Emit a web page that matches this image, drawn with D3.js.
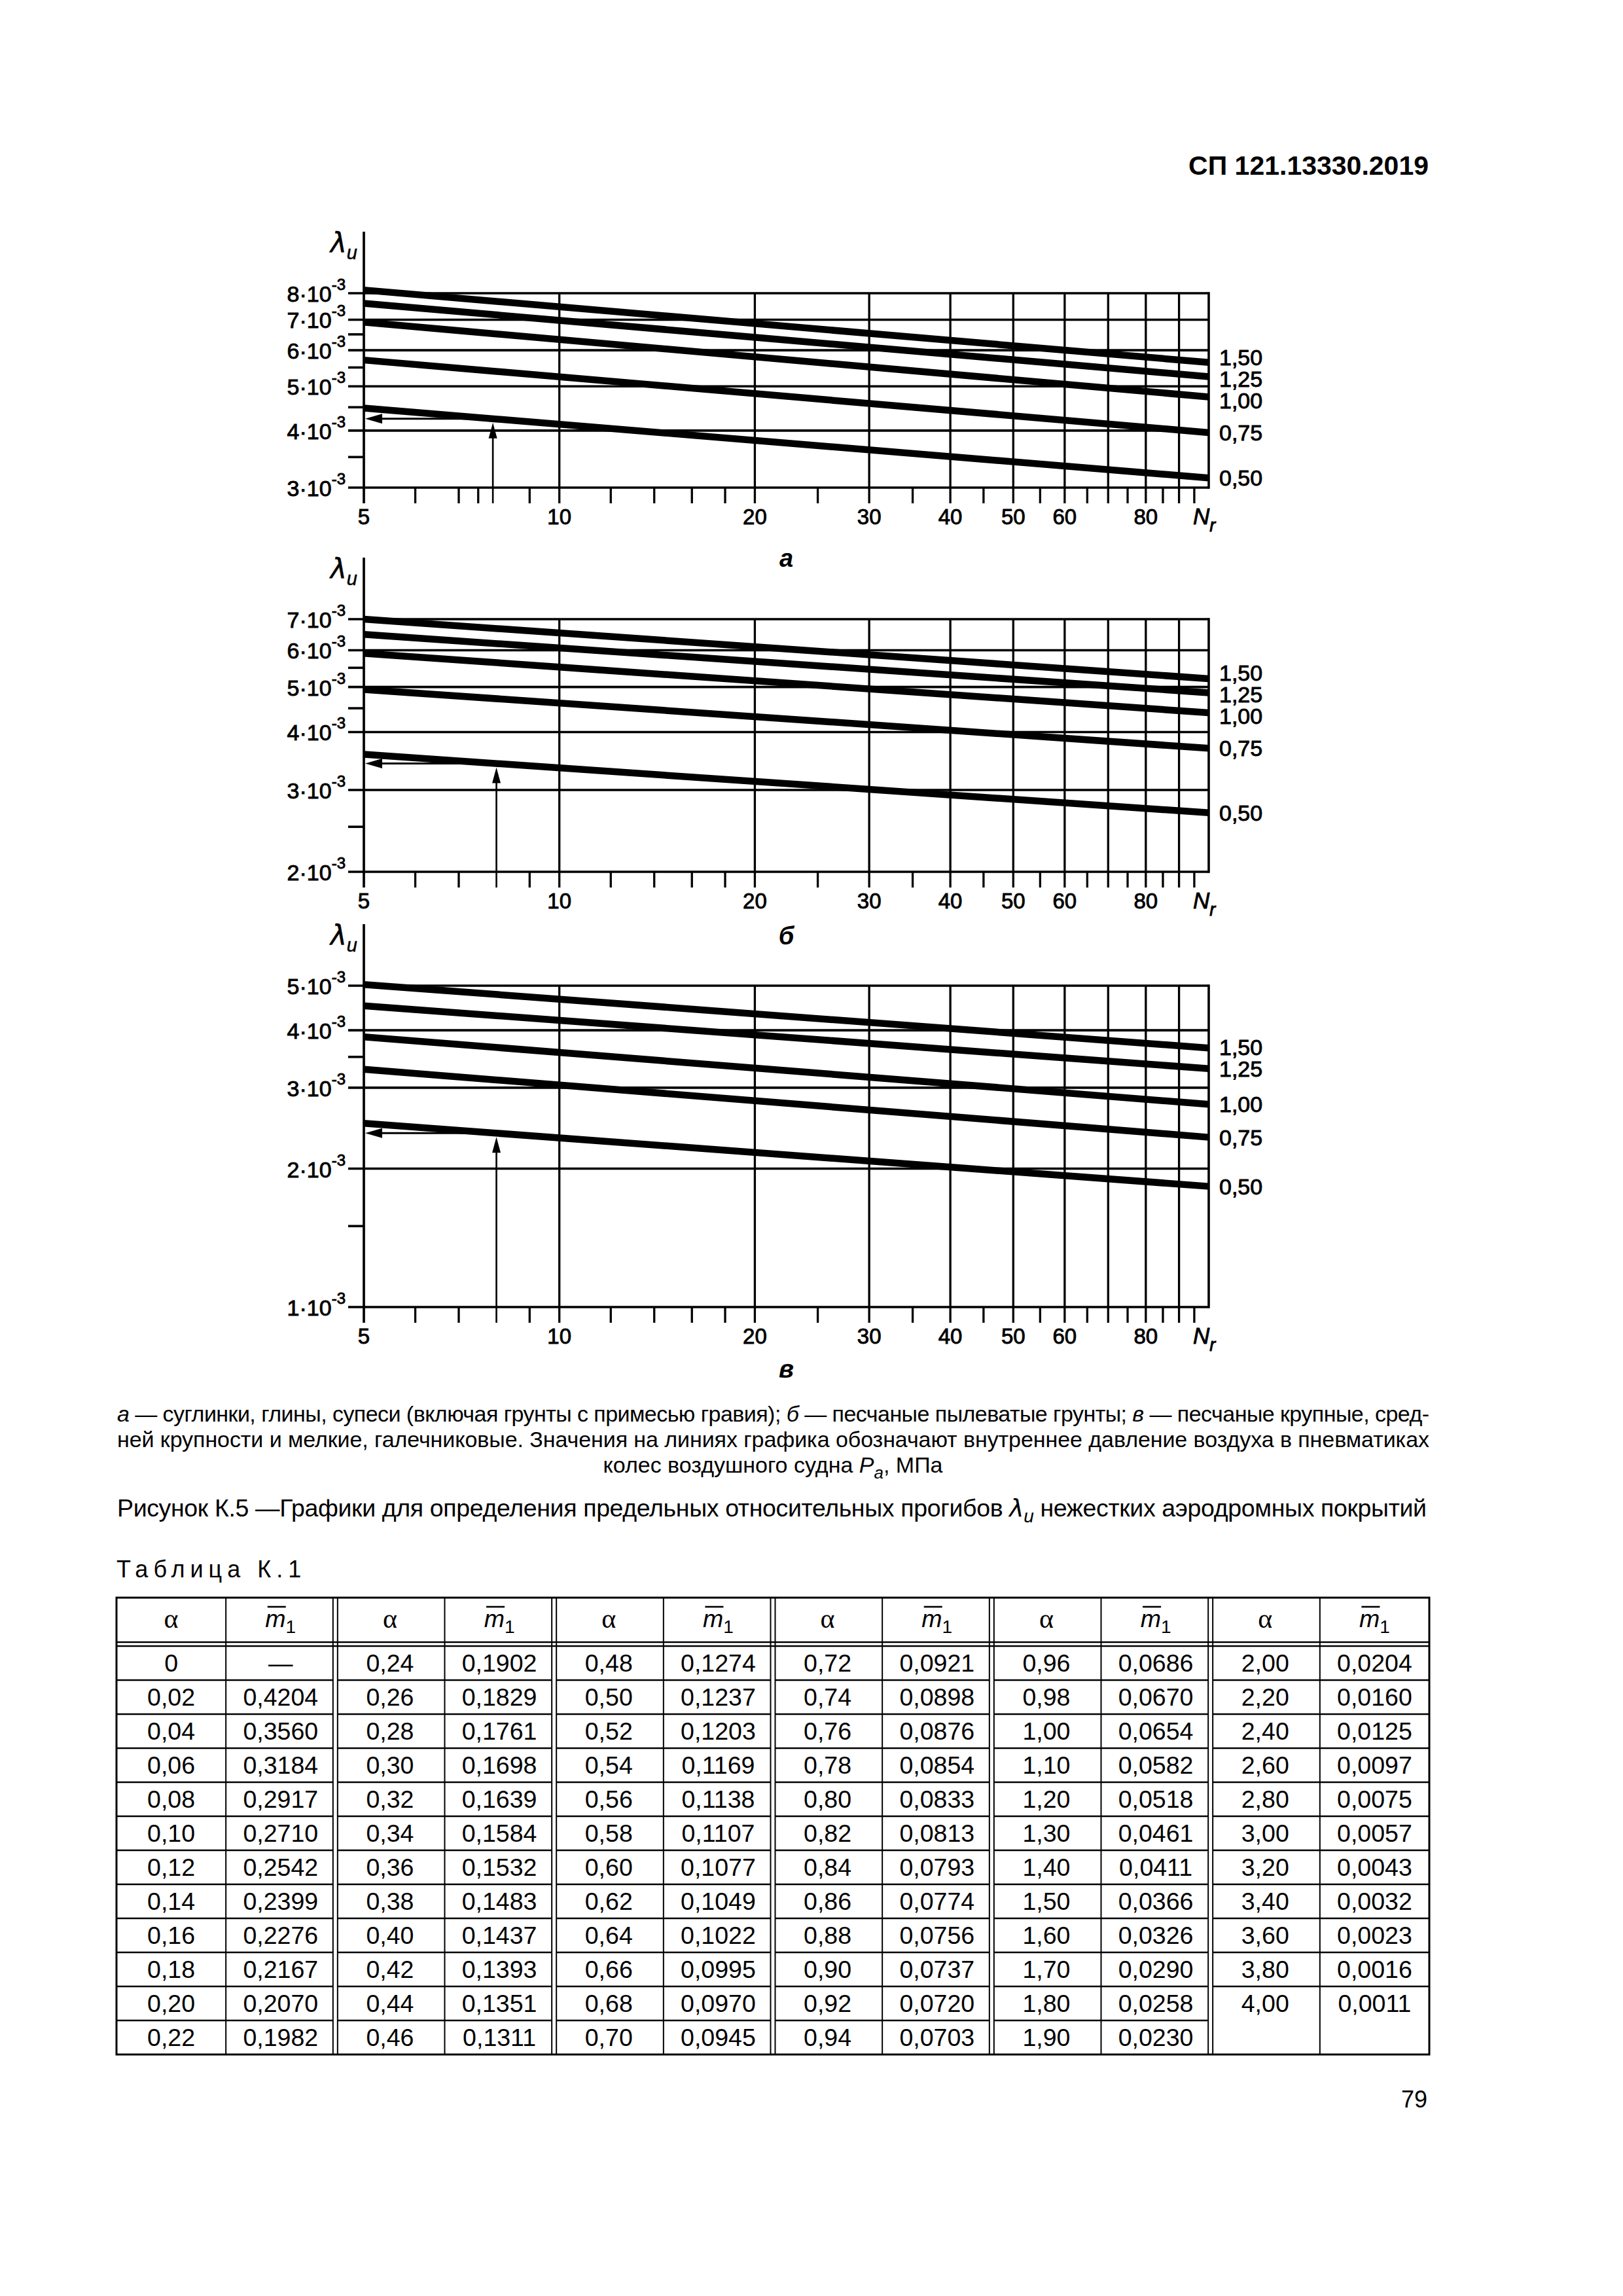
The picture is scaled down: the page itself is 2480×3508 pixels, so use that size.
<!DOCTYPE html>
<html><head><meta charset="utf-8">
<script src="https://cdn.jsdelivr.net/npm/d3@7"></script>
<style>html,body{margin:0;padding:0;background:#fff}svg{display:block}</style>
</head><body>
<script>
// ---------------- DATA ----------------
const pressureLabels = ["1,50", "1,25", "1,00", "0,75", "0,50"];
const nDomain = [5, 100];
// λu at N = 5 (start) and N = 100 (end), one value per pressure line
const aStart = [8.13e-3, 7.60e-3, 6.91e-3, 5.71e-3, 4.48e-3];
const aEnd   = [5.64e-3, 5.25e-3, 4.74e-3, 3.96e-3, 3.15e-3];
const bStart = [7.00e-3, 6.49e-3, 5.91e-3, 4.94e-3, 3.58e-3];
const bEnd   = [5.21e-3, 4.86e-3, 4.40e-3, 3.69e-3, 2.68e-3];
const cStart = [5.03e-3, 4.52e-3, 3.87e-3, 3.29e-3, 2.51e-3];
const cEnd   = [3.66e-3, 3.30e-3, 2.76e-3, 2.34e-3, 1.83e-3];
// y axis ticks (mantissa of ·10^-3)
const aYMajor = [8, 7, 6, 5, 4, 3];
const aYMinor = [6.5, 5.5, 4.5, 3.5];
const bYMajor = [7, 6, 5, 4, 3, 2];
const bYMinor = [5.5, 4.5, 2.5];
const cYMajor = [5, 4, 3, 2, 1];
const cYMinor = [3.5, 1.5];
// x axis
const xGridValues = [10, 20, 30, 40, 50, 60, 70, 80, 90];
const xMinorA  = [6, 7, 7.5, 9, 12, 14, 16, 18, 25, 35, 45, 55, 65, 75, 85, 95];
const xMinorBC = [6, 7, 9, 12, 14, 16, 18, 25, 35, 45, 55, 65, 75, 85, 95];
const xTickLabels = [5, 10, 20, 30, 40, 50, 60, 80];
// example arrows (N value of the worked example) per chart
const arrowN = [7.9, 8, 8];
const chartNames = ["а", "б", "в"];

// table K.1
const tableAlpha = ["0","0,02","0,04","0,06","0,08","0,10","0,12","0,14","0,16","0,18","0,20","0,22",
  "0,24","0,26","0,28","0,30","0,32","0,34","0,36","0,38","0,40","0,42","0,44","0,46",
  "0,48","0,50","0,52","0,54","0,56","0,58","0,60","0,62","0,64","0,66","0,68","0,70",
  "0,72","0,74","0,76","0,78","0,80","0,82","0,84","0,86","0,88","0,90","0,92","0,94",
  "0,96","0,98","1,00","1,10","1,20","1,30","1,40","1,50","1,60","1,70","1,80","1,90",
  "2,00","2,20","2,40","2,60","2,80","3,00","3,20","3,40","3,60","3,80","4,00"];
const tableM1 = ["—","0,4204","0,3560","0,3184","0,2917","0,2710","0,2542","0,2399","0,2276","0,2167","0,2070","0,1982",
  "0,1902","0,1829","0,1761","0,1698","0,1639","0,1584","0,1532","0,1483","0,1437","0,1393","0,1351","0,1311",
  "0,1274","0,1237","0,1203","0,1169","0,1138","0,1107","0,1077","0,1049","0,1022","0,0995","0,0970","0,0945",
  "0,0921","0,0898","0,0876","0,0854","0,0833","0,0813","0,0793","0,0774","0,0756","0,0737","0,0720","0,0703",
  "0,0686","0,0670","0,0654","0,0582","0,0518","0,0461","0,0411","0,0366","0,0326","0,0290","0,0258","0,0230",
  "0,0204","0,0160","0,0125","0,0097","0,0075","0,0057","0,0043","0,0032","0,0023","0,0016","0,0011"];

// ---------------- LAYOUT ----------------
const W = 2480, H = 3508;
const SANS = "'Liberation Sans', Arial, sans-serif";
const SERIF = "'Liberation Serif', 'Times New Roman', serif";
const plotLeft = 556, plotRight = 1847;
const layouts = [
  {top: 448, bottom: 745, subY: 866},
  {top: 946, bottom: 1332, subY: 1443},
  {top: 1506, bottom: 1997, subY: 2105}
];
const HEAVY = 0.9; // extra stroke to mimic the heavier print of chart labels

const svg = d3.select("body").append("svg")
  .attr("width", W).attr("height", H).attr("viewBox", `0 0 ${W} ${H}`)
  .style("font-family", SANS);
svg.append("rect").attr("width", W).attr("height", H).attr("fill", "#fff");

// header
svg.append("text").attr("x", 2183).attr("y", 267).attr("text-anchor", "end")
  .attr("font-size", 41).attr("font-weight", "bold").text("СП 121.13330.2019");

const x = d3.scaleLog().domain(nDomain).range([plotLeft, plotRight]);

const chartData = [
  {start: aStart, end: aEnd, yMajor: aYMajor, yMinor: aYMinor, xMinor: xMinorA},
  {start: bStart, end: bEnd, yMajor: bYMajor, yMinor: bYMinor, xMinor: xMinorBC},
  {start: cStart, end: cEnd, yMajor: cYMajor, yMinor: cYMinor, xMinor: xMinorBC}
];

chartData.forEach((cd, ci) => {
  const L = layouts[ci];
  const g = svg.append("g");
  const y = d3.scaleLog()
    .domain([d3.min(cd.yMajor) * 1e-3, d3.max(cd.yMajor) * 1e-3])
    .range([L.bottom, L.top]);
  const TK = 24;

  // horizontal grid lines (extend left as ticks)
  g.selectAll(".hg").data(cd.yMajor).join("line")
    .attr("x1", plotLeft - TK).attr("x2", plotRight)
    .attr("y1", d => y(d * 1e-3)).attr("y2", d => y(d * 1e-3))
    .attr("stroke", "#000").attr("stroke-width", 3.6);
  // y minor ticks
  g.selectAll(".ym").data(cd.yMinor).join("line")
    .attr("x1", plotLeft - TK).attr("x2", plotLeft)
    .attr("y1", d => y(d * 1e-3)).attr("y2", d => y(d * 1e-3))
    .attr("stroke", "#000").attr("stroke-width", 3.6);
  // vertical grid lines (extend below as ticks)
  g.selectAll(".vg").data(xGridValues).join("line")
    .attr("x1", d => x(d)).attr("x2", d => x(d))
    .attr("y1", L.top).attr("y2", L.bottom + TK)
    .attr("stroke", "#000").attr("stroke-width", 3.3);
  // x minor ticks
  g.selectAll(".xm").data(cd.xMinor).join("line")
    .attr("x1", d => x(d)).attr("x2", d => x(d))
    .attr("y1", L.bottom).attr("y2", L.bottom + TK)
    .attr("stroke", "#000").attr("stroke-width", 3.3);
  // y axis line
  g.append("line").attr("x1", plotLeft).attr("x2", plotLeft)
    .attr("y1", L.top - 94).attr("y2", L.bottom + TK)
    .attr("stroke", "#000").attr("stroke-width", 3.7);
  // right border
  g.append("line").attr("x1", plotRight).attr("x2", plotRight)
    .attr("y1", L.top - 1.8).attr("y2", L.bottom + 1.8)
    .attr("stroke", "#000").attr("stroke-width", 3.6);

  // data lines
  const series = cd.start.map((s, i) => ({label: pressureLabels[i], pts: [{n: nDomain[0], v: s}, {n: nDomain[1], v: cd.end[i]}]}));
  const line = d3.line().x(p => x(p.n)).y(p => y(p.v));
  g.selectAll(".dl").data(series).join("path")
    .attr("d", d => line(d.pts)).attr("fill", "none")
    .attr("stroke", "#000").attr("stroke-width", 10.5);

  // worked example arrows on the 0,50 line
  const low = series[series.length - 1];
  const an = arrowN[ci];
  const t = (Math.log(an) - Math.log(nDomain[0])) / (Math.log(nDomain[1]) - Math.log(nDomain[0]));
  const av = Math.exp(Math.log(low.pts[0].v) + t * (Math.log(low.pts[1].v) - Math.log(low.pts[0].v)));
  const ax = x(an), ay = y(av);
  const tipY = ay + 6, AL = 24, AW = 6.5;
  g.append("line").attr("x1", ax).attr("x2", ax).attr("y1", L.bottom + TK).attr("y2", tipY + AL - 2)
    .attr("stroke", "#000").attr("stroke-width", 2.6);
  g.append("path").attr("d", `M${ax},${tipY} L${ax - AW},${tipY + AL} L${ax + AW},${tipY + AL} Z`).attr("fill", "#000");
  const tipX = plotLeft + 2;
  g.append("line").attr("x1", ax - 6).attr("x2", tipX + AL - 2).attr("y1", ay).attr("y2", ay)
    .attr("stroke", "#000").attr("stroke-width", 3);
  g.append("path").attr("d", `M${tipX},${ay} L${tipX + AL + 2},${ay - AW - 1} L${tipX + AL + 2},${ay + AW + 1} Z`).attr("fill", "#000");

  // y tick labels
  const yl = g.selectAll(".yl").data(cd.yMajor).join("text")
    .attr("x", plotLeft - 28).attr("y", d => y(d * 1e-3) + 13)
    .attr("text-anchor", "end").attr("font-size", 34)
    .attr("stroke", "#000").attr("stroke-width", HEAVY);
  yl.append("tspan").text(d => d + "·10");
  yl.append("tspan").attr("dy", -18).attr("font-size", 24).text("-3");

  // axis title λu
  const lt = g.append("text").attr("x", 505).attr("y", L.top - 62).attr("font-size", 42)
    .attr("font-family", "'DejaVu Sans', sans-serif").attr("stroke", "#000").attr("stroke-width", 0.5);
  lt.append("tspan").attr("font-style", "italic").text("λ");
  lt.append("tspan").attr("dy", 10).attr("font-size", 29).attr("font-style", "italic").attr("font-family", SANS).text("u");

  // x tick labels
  g.selectAll(".xl").data(xTickLabels).join("text")
    .attr("x", d => x(d)).attr("y", L.bottom + 56)
    .attr("text-anchor", "middle").attr("font-size", 33)
    .attr("stroke", "#000").attr("stroke-width", HEAVY).text(d => d);
  const nt = g.append("text").attr("x", x(nDomain[1]) - 24).attr("y", L.bottom + 56).attr("font-size", 35)
    .attr("font-style", "italic").attr("stroke", "#000").attr("stroke-width", HEAVY);
  nt.append("tspan").text("N");
  nt.append("tspan").attr("dy", 11).attr("font-size", 27).text("r");

  // right labels, dodged so that they don't overlap
  const gap = 33;
  let items = series.map(s => ({label: s.label, target: y(s.pts[1].v)}));
  items.sort((a, b) => a.target - b.target);
  let groups = items.map(it => ({items: [it], pos: it.target}));
  let changed = true;
  while (changed) {
    changed = false;
    for (let i = 0; i < groups.length - 1; i++) {
      const a = groups[i], b = groups[i + 1];
      const aEndPos = a.pos + (a.items.length - 1) * gap;
      if (b.pos - aEndPos < gap) {
        const merged = a.items.concat(b.items);
        const mean = d3.mean(merged, d => d.target);
        groups.splice(i, 2, {items: merged, pos: mean - (merged.length - 1) * gap / 2});
        changed = true; break;
      }
    }
  }
  groups.forEach(gr => gr.items.forEach((it, k) => { it.y = gr.pos + k * gap; }));
  g.selectAll(".rl").data(items).join("text")
    .attr("x", plotRight + 16).attr("y", d => d.y + 12)
    .attr("font-size", 34).attr("stroke", "#000").attr("stroke-width", HEAVY).text(d => d.label);

  // chart letter
  g.append("text").attr("x", (plotLeft + plotRight) / 2 + 0).attr("y", L.subY)
    .attr("text-anchor", "middle").attr("font-size", 38).attr("font-style", "italic").attr("font-weight", "bold")
    .text(chartNames[ci]);
});

// ---------------- CAPTION ----------------
const capLeft = 179, capRight = 2184;
const c1 = svg.append("text").attr("x", capLeft).attr("y", 2172).attr("font-size", 34)
  .attr("textLength", capRight - capLeft).attr("lengthAdjust", "spacing");
c1.append("tspan").attr("font-style", "italic").text("а");
c1.append("tspan").text(" — суглинки, глины, супеси (включая грунты с примесью гравия); ");
c1.append("tspan").attr("font-style", "italic").text("б");
c1.append("tspan").text(" — песчаные пылеватые грунты; ");
c1.append("tspan").attr("font-style", "italic").text("в");
c1.append("tspan").text(" — песчаные крупные, сред-");
svg.append("text").attr("x", capLeft).attr("y", 2211).attr("font-size", 34)
  .attr("textLength", capRight - capLeft).attr("lengthAdjust", "spacing")
  .text("ней крупности и мелкие, галечниковые. Значения на линиях графика обозначают внутреннее давление воздуха в пневматиках");
const c3 = svg.append("text").attr("x", 1181).attr("y", 2250).attr("font-size", 34).attr("text-anchor", "middle");
c3.append("tspan").text("колес воздушного судна ");
c3.append("tspan").attr("font-style", "italic").text("P");
c3.append("tspan").attr("dy", 9).attr("font-size", 26).attr("font-style", "italic").text("a");
c3.append("tspan").attr("dy", -9).text(", МПа");

const c4 = svg.append("text").attr("x", 179).attr("y", 2317).attr("font-size", 37.5)
  .attr("textLength", 2180 - 179).attr("lengthAdjust", "spacing");
c4.append("tspan").text("Рисунок К.5 —Графики для определения предельных относительных прогибов ");
c4.append("tspan").attr("font-family", "'DejaVu Sans', sans-serif").attr("font-style", "italic").text("λ");
c4.append("tspan").attr("dy", 9).attr("font-size", 28).attr("font-style", "italic").text("u");
c4.append("tspan").attr("dy", -9).text(" нежестких аэродромных покрытий");

// ---------------- TABLE ----------------
svg.append("text").attr("x", 178).attr("y", 2410).attr("font-size", 36).attr("letter-spacing", 8).text("Таблица К.1");

const tLeft = 178, tRight = 2184, tTop = 2441, hBottom = 2509, dTop = 2515, tBottom = 3139;
const nGroups = 6, rowsPerGroup = 12;
const colX = d3.scaleLinear().domain([0, nGroups * 2]).range([tLeft, tRight]);
const rowY = d3.scaleLinear().domain([0, rowsPerGroup]).range([dTop, tBottom]);
const tg = svg.append("g");
const groupsData = d3.range(nGroups).map(gi => ({
  alpha: tableAlpha.slice(gi * rowsPerGroup, gi * rowsPerGroup + rowsPerGroup),
  m: tableM1.slice(gi * rowsPerGroup, gi * rowsPerGroup + rowsPerGroup)
}));

// header lines
[hBottom, dTop].forEach(yy => tg.append("line").attr("x1", tLeft).attr("x2", tRight).attr("y1", yy).attr("y2", yy)
  .attr("stroke", "#000").attr("stroke-width", 2.4));
// row separators
groupsData.forEach((gd, gi) => {
  for (let r = 1; r < rowsPerGroup; r++) {
    if (r >= gd.alpha.length) continue;
    const x1 = colX(gi * 2) + (gi > 0 ? 3.5 : 0), x2 = colX(gi * 2 + 2) - (gi < nGroups - 1 ? 3.5 : 0);
    tg.append("line").attr("x1", x1).attr("x2", x2).attr("y1", rowY(r)).attr("y2", rowY(r))
      .attr("stroke", "#000").attr("stroke-width", 2.6);
  }
});
// column separators
for (let c = 1; c < nGroups * 2; c++) {
  if (c % 2 === 1) {
    tg.append("line").attr("x1", colX(c)).attr("x2", colX(c)).attr("y1", tTop).attr("y2", tBottom)
      .attr("stroke", "#000").attr("stroke-width", 2);
  } else {
    [-3.5, 3.5].forEach(o => tg.append("line").attr("x1", colX(c) + o).attr("x2", colX(c) + o).attr("y1", tTop).attr("y2", tBottom)
      .attr("stroke", "#000").attr("stroke-width", 2));
  }
}
// outer border
tg.append("rect").attr("x", tLeft).attr("y", tTop).attr("width", tRight - tLeft).attr("height", tBottom - tTop)
  .attr("fill", "none").attr("stroke", "#000").attr("stroke-width", 3);

// header texts
d3.range(nGroups).forEach(gi => {
  const hy = (tTop + hBottom) / 2;
  tg.append("text").attr("x", (colX(gi * 2) + colX(gi * 2 + 1)) / 2).attr("y", hy + 12)
    .attr("text-anchor", "middle").attr("font-size", 42).attr("font-family", SERIF).text("α");
  const mx = (colX(gi * 2 + 1) + colX(gi * 2 + 2)) / 2;
  const mt = tg.append("text").attr("x", mx).attr("y", hy + 11).attr("text-anchor", "middle").attr("font-size", 37.5);
  mt.append("tspan").attr("font-style", "italic").text("m");
  mt.append("tspan").attr("dy", 9).attr("font-size", 28).text("1");
  tg.append("line").attr("x1", mx - 20).attr("x2", mx + 8).attr("y1", hy - 20).attr("y2", hy - 20)
    .attr("stroke", "#000").attr("stroke-width", 2.6);
});

// cell texts
groupsData.forEach((gd, gi) => {
  tg.selectAll(null).data(gd.alpha).join("text")
    .attr("x", (colX(gi * 2) + colX(gi * 2 + 1)) / 2).attr("y", (d, r) => (rowY(r) + rowY(r + 1)) / 2 + 13)
    .attr("text-anchor", "middle").attr("font-size", 37.5).text(d => d);
  tg.selectAll(null).data(gd.m).join("text")
    .attr("x", (colX(gi * 2 + 1) + colX(gi * 2 + 2)) / 2).attr("y", (d, r) => (rowY(r) + rowY(r + 1)) / 2 + 13)
    .attr("text-anchor", "middle").attr("font-size", 37.5).text(d => d);
});

// page number
svg.append("text").attr("x", 2181).attr("y", 3220).attr("text-anchor", "end").attr("font-size", 36).text("79");
</script>
</body></html>
